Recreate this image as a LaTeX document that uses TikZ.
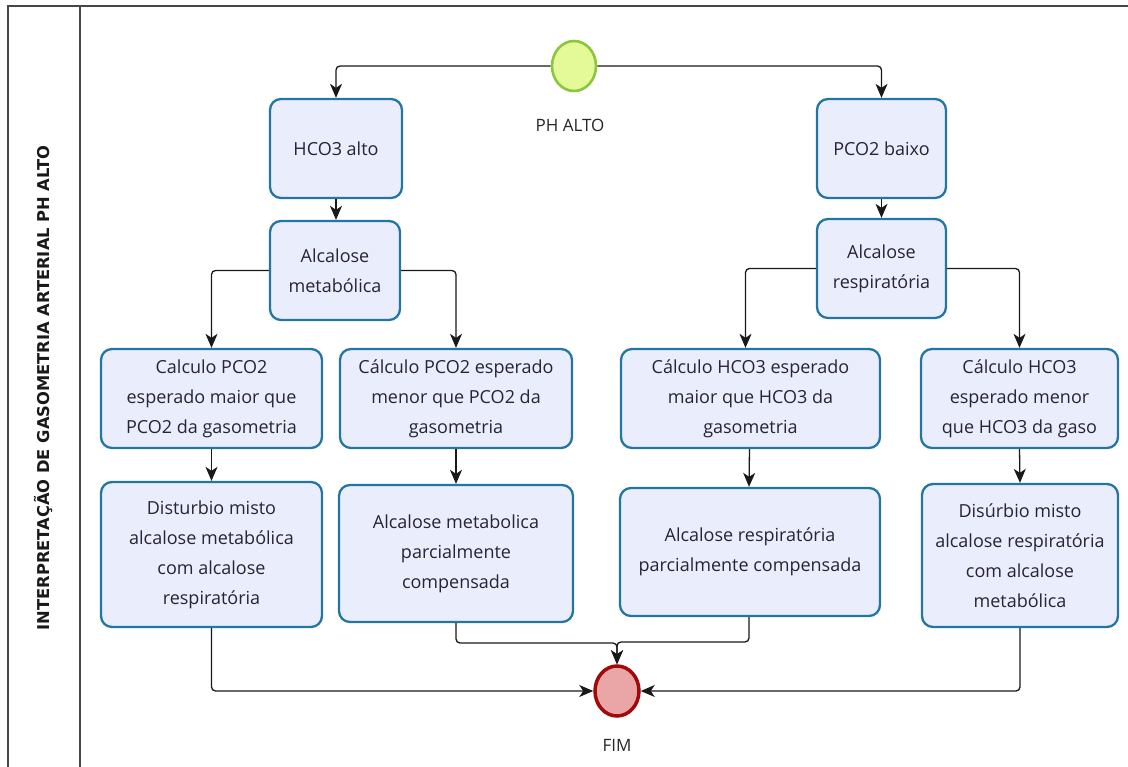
\documentclass[tikz,border=0pt]{standalone}
\usepackage{fontspec}
\setmainfont{Open Sans}
\newfontfamily\lanefont{DejaVu Sans}
\usetikzlibrary{arrows.meta,shapes.geometric}
\definecolor{boxfill}{RGB}{233,237,252}
\definecolor{boxline}{RGB}{36,118,162}
\definecolor{txt}{RGB}{40,35,55}
\definecolor{startfill}{RGB}{228,250,152}
\definecolor{startline}{RGB}{138,198,62}
\definecolor{endfill}{RGB}{234,166,166}
\definecolor{endline}{RGB}{160,10,10}
\definecolor{frame}{RGB}{70,70,70}
\tikzset{
  task/.style={draw=boxline, fill=boxfill, line width=2.3pt, rounded corners=11pt,
    align=center, text=txt, inner sep=0pt,
    font=\fontsize{18}{30}\selectfont},
  evstart/.style={ellipse, draw=startline, fill=startfill, line width=2.6pt,
    minimum width=44pt, minimum height=50pt, inner sep=0pt},
  evend/.style={ellipse, draw=endline, fill=endfill, line width=3.5pt,
    minimum width=44pt, minimum height=50pt, inner sep=0pt},
  evlabel/.style={text=black!85, font=\fontsize{17}{20}\selectfont},
  flow/.style={draw=black!90, line width=1.3pt, rounded corners=4pt,
    -{Stealth[length=14pt,width=12pt,inset=4pt]}},
}
\begin{document}
\begin{tikzpicture}[x=1pt,y=-1pt]
\useasboundingbox (0,0) rectangle (1128,767);

% pool frame and lane header
\draw[frame, line width=2pt] (8,767) -- (8,6) -- (1128,6);
\draw[frame, line width=2pt] (80,6) -- (80,767);
\node[rotate=90, font=\lanefont\bfseries\fontsize{16.3}{18}\selectfont, text=black!90] (lane) at (44,388)
  {INTERPRETAÇÃO DE GASOMETRIA ARTERIAL PH ALTO};

% events
\node[evstart] (start) at (574,66) {};
\node[evlabel] (startlbl) at (570,125) {PH ALTO};
\node[evend] (fim) at (617,691) {};
\node[evlabel] (fimlbl) at (617,745) {FIM};

% tasks
\node[task, minimum width=132pt, minimum height=99pt] (hco3) at (336,148.5) {HCO3 alto};
\node[task, minimum width=129pt, minimum height=99pt] (pco2) at (881.5,148.5) {PCO2 baixo};
\node[task, minimum width=130pt, minimum height=99pt] (am) at (335,270.5) {Alcalose\\metabólica};
\node[task, minimum width=129pt, minimum height=99pt] (ar) at (881.5,268.5) {Alcalose\\respiratória};

\node[task, minimum width=221pt, minimum height=99pt] (c1) at (211.5,398.5)
  {Calculo PCO2\\esperado maior que\\PCO2 da gasometria};
\node[task, minimum width=232pt, minimum height=99pt] (c2) at (456,398.5)
  {Cálculo PCO2 esperado\\menor que PCO2 da\\gasometria};
\node[task, minimum width=259pt, minimum height=99pt] (c3) at (750.5,398.5)
  {Cálculo HCO3 esperado\\maior que HCO3 da\\gasometria};
\node[task, minimum width=197pt, minimum height=99pt] (c4) at (1019.5,398.5)
  {Cálculo HCO3\\esperado menor\\que HCO3 da gaso};

\node[task, minimum width=221pt, minimum height=145pt] (d1) at (211.5,554.5)
  {Disturbio misto\\alcalose metabólica\\com alcalose\\respiratória};
\node[task, minimum width=234pt, minimum height=137pt] (d2) at (456,553.5)
  {Alcalose metabolica\\parcialmente\\compensada};
\node[task, minimum width=260pt, minimum height=128pt] (d3) at (750,552)
  {Alcalose respiratória\\parcialmente compensada};
\node[task, minimum width=196pt, minimum height=143pt] (d4) at (1020,555.5)
  {Disúrbio misto\\alcalose respiratória\\com alcalose\\metabólica};

% sequence flows
\draw[flow] (start.west) -| (hco3.north);
\draw[flow] (start.east) -| (pco2.north);
\draw[flow] (hco3.south) -- (am.north -| hco3.south);
\draw[flow] (pco2.south) -- (ar.north);
\draw[flow] (am.west) -| (c1.north);
\draw[flow] (am.east) -| (c2.north);
\draw[flow] (ar.west) -| ([xshift=-5pt]c3.north);
\draw[flow] (ar.east) -| (c4.north);
\draw[flow] (c1.south) -- (d1.north);
\draw[flow] (c2.south) -- (d2.north);
\draw[flow] ([xshift=-1pt]c3.south) -- ([xshift=-1pt]d3.north);
\draw[flow] (c4.south) -- (d4.north);
\draw[flow] (d1.south) |- (fim.west);
\draw[flow] (d4.south) |- (fim.east);
\coordinate (jl) at (456,643);
\coordinate (jr) at (749,642);
\draw[flow] (d2.south) -- (jl) -| (fim.north);
\draw[flow] ([xshift=-1pt]d3.south) -- (jr) -| (fim.north);
\end{tikzpicture}
\end{document}
